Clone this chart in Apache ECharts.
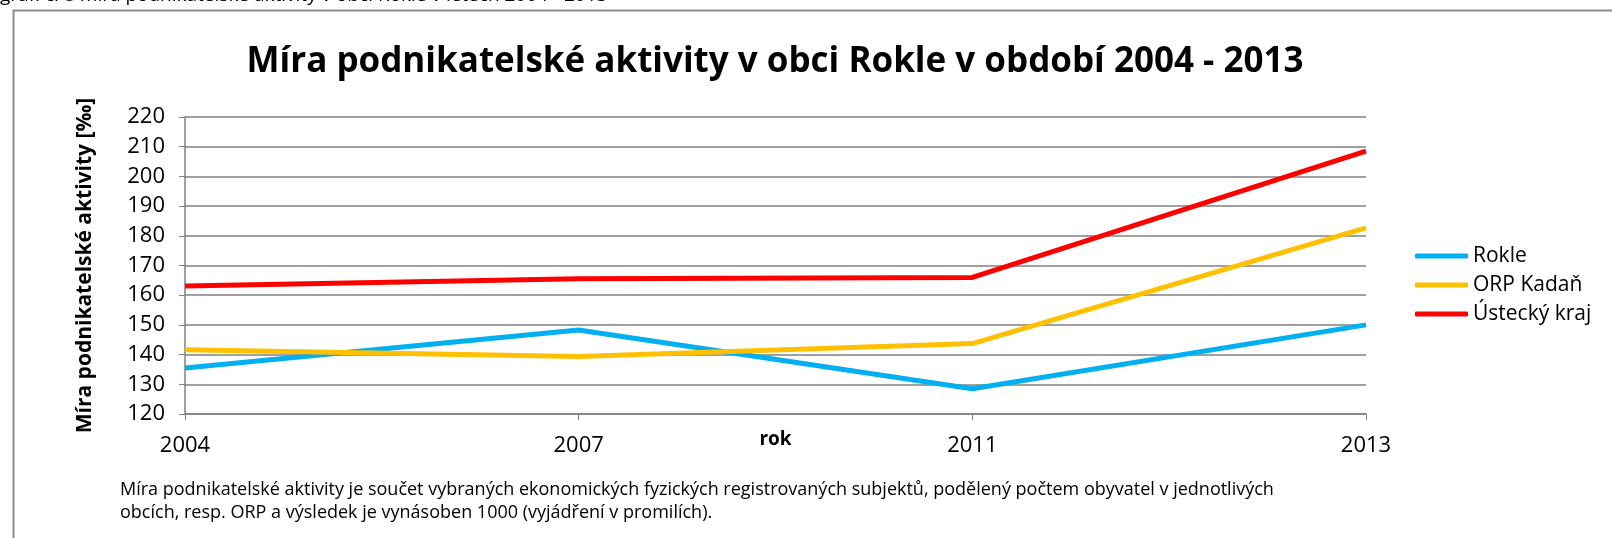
<!DOCTYPE html>
<html>
<head>
<meta charset="utf-8">
<script src="https://cdn.jsdelivr.net/npm/echarts@6/dist/echarts.min.js"></script>
<style>html,body{margin:0;padding:0;background:#fff;}#c{width:1612px;height:538px;}</style>
</head>
<body>
<div id="c"></div>
<script>
const years = ['2004', '2007', '2011', '2013'];
const rokle = [135.5, 148.3, 128.5, 150.0];
const orpKadan = [141.6, 139.4, 143.7, 182.7];
const ustecky = [163.1, 165.5, 166.0, 208.5];
const seriesNames = ['Rokle', 'ORP Kadaň', 'Ústecký kraj'];
const seriesColors = ['#00B0F0', '#FFC000', '#FF0000'];
const yMin = 120, yMax = 220, yStep = 10;

const FONT = '"Open Sans", Lato, sans-serif';
const chart = echarts.init(document.getElementById('c'));
const mk = (name, data, color) => ({
  name, type: 'line', data, symbol: 'none',
  lineStyle: { color, width: 5 }, itemStyle: { color }
});
chart.setOption({
  animation: false,
  textStyle: { fontFamily: FONT },
  title: {
    text: 'Míra podnikatelské aktivity v obci Rokle v období 2004 - 2013',
    left: 770, top: 40, textAlign: 'center',
    textStyle: { fontSize: 35, fontWeight: 'bold', color: '#000', fontFamily: FONT }
  },
  legend: {
    orient: 'vertical', left: 1410, top: 240, itemWidth: 53, itemHeight: 5,
    itemGap: 7, icon: 'roundRect',
    textStyle: { fontSize: 21, color: '#000', lineHeight: 22, fontFamily: FONT, padding: [0,0,0,0] },
    data: seriesNames
  },
  grid: { left: 185, right: 246, top: 117, bottom: 124 },
  xAxis: {
    type: 'category', data: years, boundaryGap: false,
    name: 'rok', nameLocation: 'middle', nameGap: 16, nameMoveOverlap: false,
    nameTextStyle: { fontSize: 19, fontWeight: 'bold', color: '#000', fontFamily: FONT },
    axisLine: { lineStyle: { color: '#808080', width: 1.5 } },
    axisTick: { show: true, length: 6, lineStyle: { color: '#808080' } },
    axisLabel: { fontSize: 22, color: '#000', margin: 21, fontFamily: FONT }
  },
  yAxis: {
    type: 'value', min: yMin, max: yMax, interval: yStep,
    name: 'Míra podnikatelské aktivity [‰]', nameLocation: 'middle', nameGap: 89, nameMoveOverlap: false,
    nameTextStyle: { fontSize: 21, fontWeight: 'bold', color: '#000', fontFamily: FONT },
    axisLine: { show: true, lineStyle: { color: '#808080', width: 1.5 } },
    axisTick: { show: true, length: 6, lineStyle: { color: '#808080' } },
    axisLabel: { fontSize: 22, color: '#000', margin: 20, fontFamily: FONT },
    splitLine: { lineStyle: { color: '#808080', width: 1.5 } }
  },
  graphic: [
    { type: 'rect', shape: { x: 13.5, y: 10.5, width: 1700, height: 700 },
      style: { fill: 'none', stroke: '#8c8c8c', lineWidth: 2 }, silent: true, z: -1 },
    { type: 'text', left: 0, top: -14,
      style: { text: 'graf. č. 8 míra podnikatelské aktivity v obci Rokle v letech 2004 - 2013',
               fontSize: 19, fill: '#000', fontFamily: FONT } },
    { type: 'text', left: 120, top: 478,
      style: { text: 'Míra podnikatelské aktivity je součet vybraných ekonomických fyzických registrovaných subjektů, podělený počtem obyvatel v jednotlivých\nobcích, resp. ORP a výsledek je vynásoben 1000 (vyjádření v promilích).',
               fontSize: 18, lineHeight: 23, fill: '#000', fontFamily: FONT } }
  ],
  series: [
    mk(seriesNames[0], rokle, seriesColors[0]),
    mk(seriesNames[1], orpKadan, seriesColors[1]),
    mk(seriesNames[2], ustecky, seriesColors[2])
  ]
});
</script>
</body>
</html>
